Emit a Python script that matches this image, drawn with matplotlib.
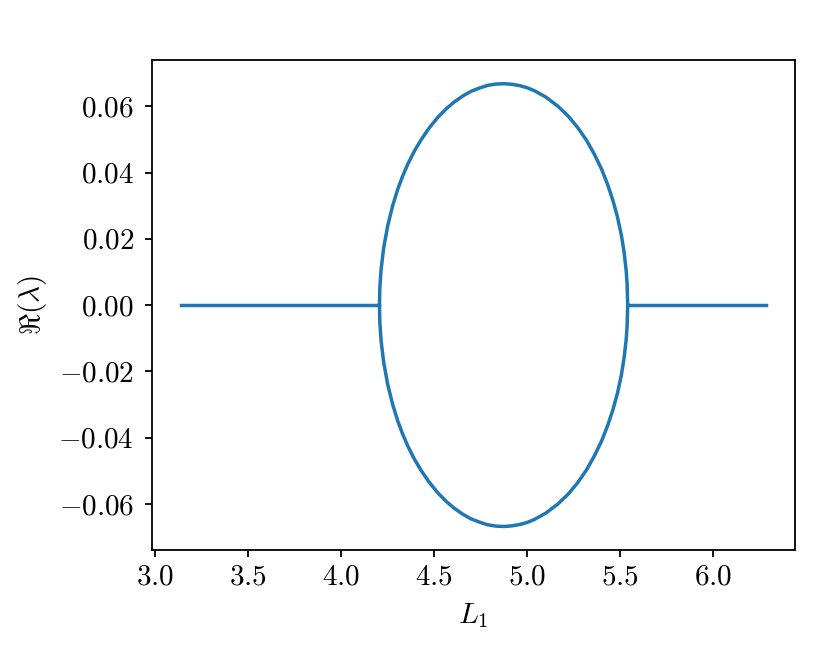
#!/usr/bin/env python

########################################################################
# Real part of the eigenvalue as a function of L1
########################################################################

import matplotlib
matplotlib.use('Agg')
import matplotlib.pyplot as plt
from matplotlib.ticker import FuncFormatter

plt.rcParams['mathtext.fontset'] = 'cm'
plt.rcParams['font.family'] = 'serif'
plt.rcParams['font.serif'] = ['cmr10', 'DejaVu Serif']
plt.rcParams['axes.unicode_minus'] = True

# flat parts (Re = 0) on both sides of the loop
left_x = [3.1416, 4.207]
left_y = [0.0, 0.0]
right_x = [5.541, 6.2832]
right_y = [0.0, 0.0]

# loop
loop_x = [4.207, 4.209, 4.216, 4.230, 4.252, 4.278, 4.305, 4.330, 4.359,
          4.395, 4.430, 4.475, 4.520, 4.565, 4.609, 4.655, 4.699, 4.745,
          4.789, 4.835, 4.878, 4.920, 4.962, 5.000, 5.039, 5.100, 5.164,
          5.220, 5.272, 5.320, 5.361, 5.400, 5.433, 5.462, 5.486, 5.507,
          5.522, 5.533, 5.538, 5.541]
upper_y = [0.0, 0.0052, 0.0109, 0.0174, 0.0241, 0.0300, 0.0349, 0.0387,
           0.0425, 0.0465, 0.0498, 0.0535, 0.0566, 0.0592, 0.0613, 0.0631,
           0.0645, 0.0655, 0.0663, 0.0667, 0.0668, 0.0666, 0.0662, 0.0656,
           0.0647, 0.0628, 0.0601, 0.0571, 0.0536, 0.0497, 0.0456, 0.0411,
           0.0364, 0.0315, 0.0266, 0.0211, 0.0158, 0.0103, 0.0063, 0.0]
lower_y = [0.0, -0.0052, -0.0109, -0.0174, -0.0241, -0.0300, -0.0349,
           -0.0387, -0.0425, -0.0465, -0.0498, -0.0535, -0.0566, -0.0592,
           -0.0613, -0.0631, -0.0645, -0.0655, -0.0663, -0.0667, -0.0668,
           -0.0666, -0.0662, -0.0656, -0.0647, -0.0628, -0.0601, -0.0571,
           -0.0536, -0.0497, -0.0456, -0.0411, -0.0364, -0.0315, -0.0266,
           -0.0211, -0.0158, -0.0103, -0.0063, 0.0]

fig = plt.figure(figsize=(8.14, 6.54), dpi=100)
ax = fig.add_axes([0.1867, 0.159, 0.79, 0.749])

c = 'C0'
lw = 2.5
ax.plot(left_x, left_y, color=c, lw=lw)
ax.plot(loop_x, upper_y, color=c, lw=lw)
ax.plot(loop_x, lower_y, color=c, lw=lw)
ax.plot(right_x, right_y, color=c, lw=lw)

ax.set_xlim(2.9845, 6.4403)
ax.set_ylim(-0.0739, 0.0739)
ax.set_xticks([3.0, 3.5, 4.0, 4.5, 5.0, 5.5, 6.0])
ax.set_yticks([-0.06, -0.04, -0.02, 0.0, 0.02, 0.04, 0.06])
ax.xaxis.set_major_formatter(FuncFormatter(lambda v, p: r'$%.1f$' % v))
ax.yaxis.set_major_formatter(
    FuncFormatter(lambda v, p: r'$%.2f$' % (0.0 if abs(v) < 1e-9 else v)))
ax.tick_params(labelsize=21, length=5, width=1.3)
ax.tick_params(axis='x', pad=5)
ax.tick_params(axis='y', pad=8)
for s in ax.spines.values():
    s.set_linewidth(1.3)

ax.set_xlabel(r'$L_1$', fontsize=21, labelpad=8)
ax.set_ylabel(r'$\Re(\lambda)$', fontsize=21, labelpad=7)

plt.savefig('out.png', dpi=100)
plt.close()
